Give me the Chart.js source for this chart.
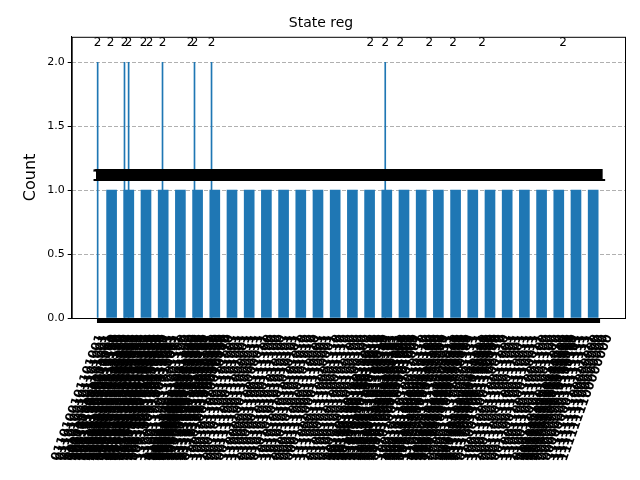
<!DOCTYPE html>
<html><head><meta charset="utf-8">
<script src="https://cdn.jsdelivr.net/npm/chart.js@4/dist/chart.umd.min.js"></script>
<style>html,body{margin:0;background:#fff}#w{width:640px;height:480px}</style>
</head><body><div id="w"><canvas id="c"></canvas></div>
<script>
// positions of states (slot index) and counts
const onePos = [0,1,2,3,4,5,6,7,8,9,10,11,12,13,14,15,16,17,18,19,20,21,22,23,24,25,26,27,28];
const oneCounts = [1,1,1,1,1,1,1,1,1,1,1,1,1,1,1,1,1,1,1,1,1,1,1,1,1,1,1,1,1];
const twoPos = [-0.81,-0.06,0.75,0.99,1.86,2.21,2.96,4.59,4.82,5.81,15.04,15.91,16.78,18.47,19.86,21.54,26.25];
const twoCounts = [2,2,2,2,2,2,2,2,2,2,2,2,2,2,2,2,2];
const twoVisible = [1,0,1,1,0,0,1,0,1,1,0,1,0,0,0,0,0];
const yTicks = [0,0.5,1,1.5,2];
const stateLabels = ['0110100101101001','1001011010010110','0011110000111100','1100001111000011',
'0101010110101010','1010101001010101','0000111100001111','1111000011110000',
'0110011001100110','1001100110011001','0011001100110011','1100110011001100',
'0101101001011010','1010010110100101','0000000011111111','1111111100000000',
'0110100110010110','1001011001101001','0011110011000011','1100001100111100',
'0101010101010101','1010101010101010','0001110001110001','1110001110001110',
'0100100100100100','1011011011011011','0010010010010010','1101101101101101',
'0111011101110111','1000100010001000'];

const C='#1f77b4';
const deco={id:'deco',
 afterDatasetsDraw(ch){const a=ch.chartArea,x=ch.scales.x,y=ch.scales.y,g=ch.ctx;g.save();
  g.fillStyle='#000';g.textAlign='center';g.textBaseline='bottom';
  g.font='12px "DejaVu Sans"';
  twoPos.forEach((p,i)=>g.fillText(String(twoCounts[i]),x.getPixelForValue(p),a.top+12));
  g.font='bold 15px "DejaVu Sans"';
  const yy=y.getPixelForValue(1)-6;
  const px0=x.getPixelForValue(-0.85), px1=x.getPixelForValue(28.55);
  for(let px=px0;px<=px1;px+=2){g.fillText('1',px,yy);}
  g.fillRect(x.getPixelForValue(-0.85),a.bottom,x.getPixelForValue(28.4)-x.getPixelForValue(-0.85),5);
  g.font='bold 12px "DejaVu Sans"';g.textAlign='right';g.textBaseline='middle';
  const all=[...twoPos,...onePos].sort((p,q)=>p-q);
  all.forEach((p,i)=>{const lab=stateLabels[i%stateLabels.length];
   [0,0.25,0.5,0.75].forEach(o=>{g.save();g.translate(x.getPixelForValue(p+o)+3,a.bottom+17);g.rotate(-70*Math.PI/180);g.fillText(lab,0,0);g.restore();});});
  g.strokeStyle='#000';g.lineWidth=1;g.strokeRect(a.left+0.5,a.top+0.5,a.right-a.left,a.bottom-a.top);
  g.restore();}
};
new Chart(document.getElementById('c'),{type:'bar',
 data:{datasets:[
  {data:onePos.map((p,i)=>({x:p,y:oneCounts[i]})),backgroundColor:C,barThickness:10,grouped:false},
  {data:twoPos.map((p,i)=>({x:p,y:twoCounts[i]})),backgroundColor:twoPos.map((p,i)=>twoVisible[i]?C:'rgba(0,0,0,0)'),barThickness:1,grouped:false}
 ]},
 options:{responsive:true,maintainAspectRatio:false,animation:false,
  layout:{padding:{left:17,right:15,top:0,bottom:162}},
  plugins:{legend:{display:false},tooltip:{enabled:false},
   title:{display:true,text:'State reg',color:'#000',font:{family:'DejaVu Sans',size:14,weight:'normal'},padding:{top:15,bottom:5}}},
  scales:{
   x:{type:'linear',min:-2.32,max:29.85,offset:false,display:false},
   y:{min:0,max:2.2,afterBuildTicks(s){s.ticks=yTicks.map(v=>({value:v}));},
    ticks:{color:'#000',font:{family:'DejaVu Sans',size:11},callback:v=>v.toFixed(1)},
    grid:{color:'#b0b0b0',drawTicks:true,tickColor:'#000',tickLength:4},border:{dash:[4,2],display:true,color:'#000'},
    title:{display:true,text:'Count',color:'#000',font:{family:'DejaVu Sans',size:16}}}
  }},
 plugins:[deco]});
</script></body></html>
